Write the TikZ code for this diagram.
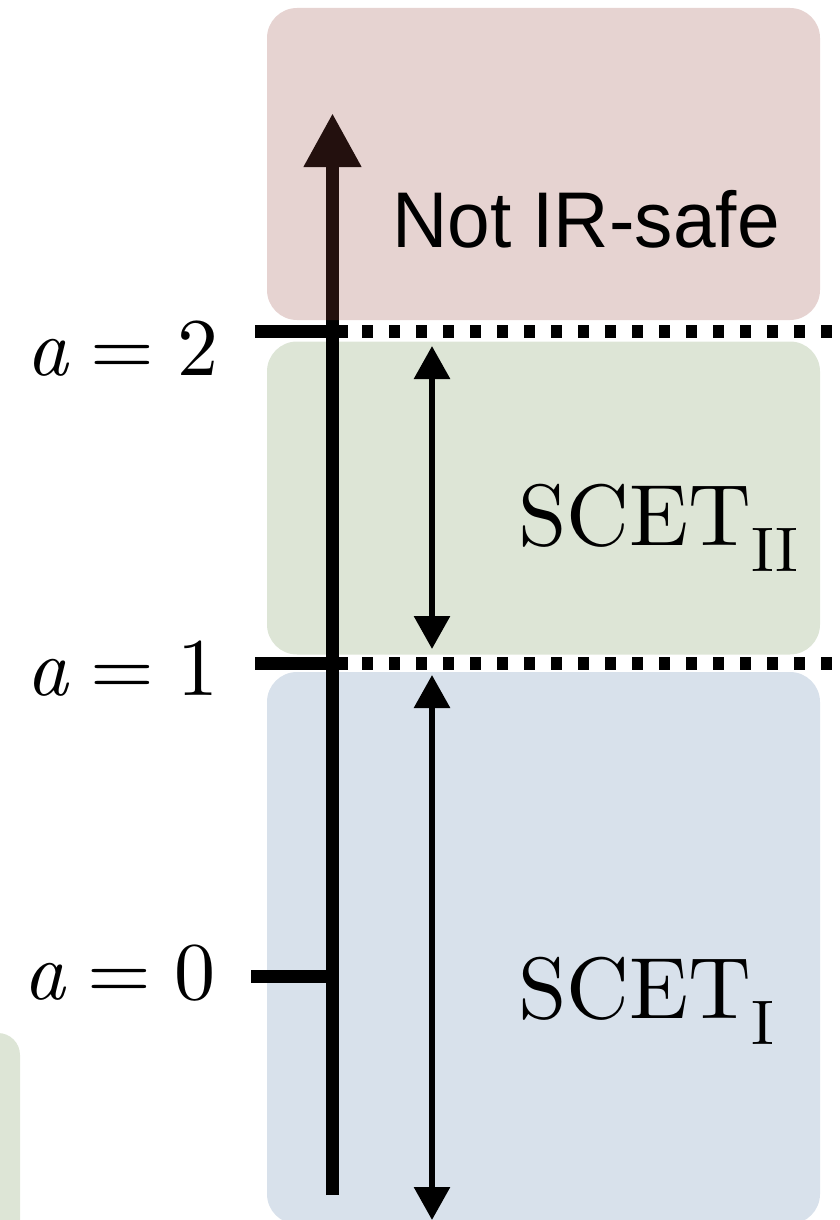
\documentclass[tikz,border=0pt]{standalone}
\usepackage{graphicx}
\usepackage{fontspec}
\newfontfamily\helv{Liberation Sans}
\newfontfamily\lmten[Extension=.otf, ItalicFont=lmroman10-italic]{lmroman10-regular}
\usetikzlibrary{arrows.meta}
\definecolor{redbox}{RGB}{149,68,60}
\definecolor{greenbox}{RGB}{221,229,214}
\definecolor{bluebox}{RGB}{216,225,235}
\newcommand{\subroman}[1]{\raisebox{-26pt}{\fontsize{63}{70}\selectfont #1}}
\newcommand{\scetlabel}[1]{\lmten\fontsize{87}{100}\selectfont SCET\subroman{#1}}
\newcommand{\alabel}[1]{\lmten\fontsize{82}{90}\selectfont{\itshape a}\hspace{0.278em}=\hspace{0.278em}#1}
\tikzset{
  axisline/.style={line width=13.6pt, -{Triangle[length=54pt,width=54pt]}},
  tickline/.style={line width=13pt},
  dotline/.style={line width=13pt, dash pattern=on 11pt off 16pt},
  spanarrow/.style={line width=6pt, {Triangle[length=33pt,width=35pt]}-{Triangle[length=33pt,width=35pt]}},
  region/.style={rectangle, rounded corners=30pt, draw=none, inner sep=0pt},
  lbl/.style={inner sep=0pt, anchor=base west}
}
\begin{document}
\begin{tikzpicture}[x=1pt,y=-1pt]
\useasboundingbox (0,0) rectangle (839,1220);
% regions below the axis
\node[region, fill=greenbox, minimum width=553pt, minimum height=313pt] (scetIIbox) at (543.5,498) {};
\node[region, fill=bluebox, minimum width=553pt, minimum height=552pt] (scetIbox) at (543.5,948) {};
\node[region, fill=greenbox, rounded corners=22pt, minimum width=80pt, minimum height=260pt] (leftbox) at (-20,1163) {};
% axis
\coordinate (axbot) at (332.5,1195);
\coordinate (axtop) at (332.5,113);
\draw[axisline] (axbot) -- (axtop);
% ticks
\coordinate (t2L) at (255,331); \coordinate (t2R) at (348,331);
\coordinate (d2L) at (362,331); \coordinate (d2R) at (833,331);
\coordinate (t1L) at (255,663); \coordinate (t1R) at (348,663);
\coordinate (d1L) at (362,663); \coordinate (d1R) at (833,663);
\coordinate (t0L) at (251,976); \coordinate (t0R) at (333,976);
\draw[tickline] (t2L) -- (t2R);
\draw[dotline] (d2L) -- (d2R);
\draw[tickline] (t1L) -- (t1R);
\draw[dotline] (d1L) -- (d1R);
\draw[tickline] (t0L) -- (t0R);
% span arrows
\coordinate (s2top) at (432,346); \coordinate (s2bot) at (432,649);
\coordinate (s1top) at (432,675); \coordinate (s1bot) at (432,1220);
\draw[spanarrow] (s2top) -- (s2bot);
\draw[spanarrow] (s1top) -- (s1bot);
% translucent top region
\node[region, fill=redbox, fill opacity=0.235, minimum width=553pt, minimum height=312pt] (notirbox) at (543.5,164) {};
% labels
\node[lbl] (notir) at (392,247) {\scalebox{0.97}[1]{\helv\fontsize{79}{90}\selectfont Not IR-safe}};
\node[lbl] (scetII) at (518,545) {\scetlabel{II}};
\node[lbl] (scetI) at (518,1018) {\scetlabel{I}};
\node[lbl] (a2) at (26,375) {\alabel{2}};
\node[lbl] (a1) at (26,695) {\alabel{1}};
\node[lbl] (a0) at (23,999) {\alabel{0}};
\end{tikzpicture}
\end{document}
